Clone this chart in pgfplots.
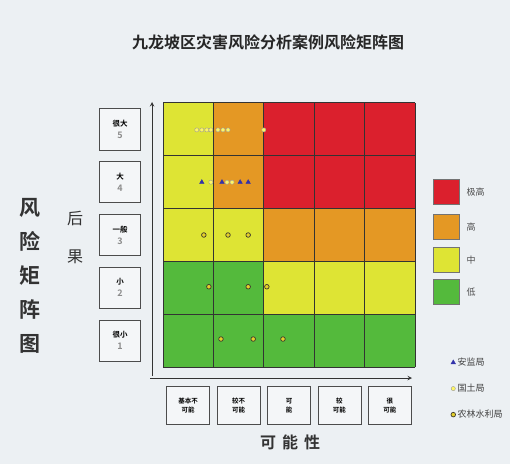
\documentclass[border=0pt]{standalone}
\usepackage{pgfplots}
\pgfplotsset{compat=1.18}
\usepackage{pgfplotstable}
\usepackage{fontspec}
\setmainfont{Noto Sans CJK SC}[BoldFont={Noto Sans CJK SC Bold}]
\definecolor{bgc}{RGB}{236,240,243}
\definecolor{rred}{RGB}{219,32,45}
\definecolor{rora}{RGB}{228,152,36}
\definecolor{ryel}{RGB}{222,228,52}
\definecolor{rgre}{RGB}{84,186,60}
\definecolor{tri}{RGB}{50,50,170}
\pgfplotstableread{
x y c
0.5 0.5 0
1.5 0.5 0
2.5 0.5 0
3.5 0.5 0
4.5 0.5 0
0.5 1.5 0
1.5 1.5 0
2.5 1.5 1
3.5 1.5 1
4.5 1.5 1
0.5 2.5 1
1.5 2.5 1
2.5 2.5 2
3.5 2.5 2
4.5 2.5 2
0.5 3.5 1
1.5 3.5 2
2.5 3.5 3
3.5 3.5 3
4.5 3.5 3
0.5 4.5 1
1.5 4.5 2
2.5 4.5 3
3.5 4.5 3
4.5 4.5 3
}\riskgrid
\pgfplotstableread{
x y
0.77 3.50
1.17 3.50
1.53 3.50
1.69 3.50
}\anjian
\pgfplotstableread{
x y
0.67 4.49
0.77 4.49
0.87 4.49
0.95 4.49
1.09 4.49
1.19 4.49
1.29 4.49
2.00 4.49
0.95 3.50
1.27 3.50
1.37 3.50
}\guotu
\pgfplotstableread{
x y
0.81 2.50
1.29 2.50
1.69 2.50
0.91 1.52
1.69 1.52
2.06 1.52
1.15 0.53
1.79 0.53
2.38 0.53
}\nonglin
\begin{document}
\begin{tikzpicture}[x=1pt,y=1pt]
\useasboundingbox (0,0) rectangle (510,464);
\fill[bgc] (0,0) rectangle (510,464);
% title
\node[font=\fontsize{16}{18}\selectfont\bfseries, text=black!85] at (268,422) {九龙坡区灾害风险分析案例风险矩阵图};
% left labels
\node[font=\fontsize{21}{34}\selectfont\bfseries, align=center, text=black!80] at (30,188) {风\\险\\矩\\阵\\图};
\node[font=\fontsize{16}{38}\selectfont, align=center, text=black!80] at (75,227) {后\\果};
\node[font=\fontsize{16}{18}\selectfont\bfseries, text=black!80] at (290,22) {可\hspace{6pt}能\hspace{6pt}性};
\begin{axis}[
  at={(163pt,97pt)}, anchor=south west,
  scale only axis, width=252pt, height=264pt,
  xmin=0, xmax=5, ymin=0, ymax=5,
  axis on top,
  axis line style={draw=none},
  major tick length=0pt, minor tick length=0pt,
  tick style={draw=none},
  xtick={0.5,1.5,2.5,3.5,4.5},
  ytick={0.5,1.5,2.5,3.5,4.5},
  minor xtick={0,1,2,3,4,5},
  minor ytick={0,1,2,3,4,5},
  xminorgrids, yminorgrids,
  minor grid style={black!80, line width=1pt},
  xticklabels={{基本不\\可能},{较不\\可能},{可\\能},{较\\可能},{很\\可能}},
  yticklabels={{很小\\{\color{black!45}\fontsize{9}{12}\selectfont 1}},{小\\{\color{black!45}\fontsize{9}{12}\selectfont 2}},{一般\\{\color{black!45}\fontsize{9}{12}\selectfont 3}},{大\\{\color{black!45}\fontsize{9}{12}\selectfont 4}},{很大\\{\color{black!45}\fontsize{9}{12}\selectfont 5}}},
  xticklabel style={draw=black!70, line width=0.8pt, fill=white!40!bgc, align=center, minimum width=43pt, minimum height=38pt, font=\fontsize{6.5}{9}\selectfont\bfseries, anchor=north, yshift=-19pt},
  yticklabel style={draw=black!70, line width=0.8pt, fill=white!40!bgc, align=center, minimum width=41pt, minimum height=41pt, font=\fontsize{7.5}{12}\selectfont\bfseries, anchor=east, xshift=-22pt},
  colormap={risk}{rgb255=(84,186,60) rgb255=(222,228,52) rgb255=(228,152,36) rgb255=(219,32,45)},
  colormap access=direct,
  legend style={draw=none, fill=none, at={(1.13,0.05)}, anchor=north west, font=\fontsize{9}{10}\selectfont, row sep=13pt, cells={anchor=west}, text=black!75},
]
\addplot[matrix plot*, mesh/cols=5, point meta=explicit, forget plot] table[meta=c] {\riskgrid};
\addplot[only marks, mark=triangle*, mark size=2.6pt, color=tri] table {\anjian};
\addlegendentry{安监局}
\addplot[only marks, mark=*, mark size=2.1pt, draw=black!40, fill=yellow!60!white] table {\guotu};
\addlegendentry{国土局}
\addplot[only marks, mark=*, mark size=2.3pt, draw=black!75!olive, fill=ryel!80!orange, line width=0.7pt] table {\nonglin};
\addlegendentry{农林水利局}
\end{axis}
% axis arrows
\draw[black!80, line width=1pt, -stealth] (152,88) -- (152,362);
\draw[black!80, line width=1pt, -stealth] (150,86) -- (412,86);
% colour legend
\foreach \c/\t/\yc in {rred/极高/192, rora/高/227, ryel/中/260, rgre/低/292}{
  \fill[\c, draw=black!55, line width=0.5pt] (433,464-\yc-12.5) rectangle (459,464-\yc+12.5);
  \node[font=\fontsize{9}{10}\selectfont, text=black!70, anchor=west] at (463,464-\yc) {\t};
}
\end{tikzpicture}
\end{document}
